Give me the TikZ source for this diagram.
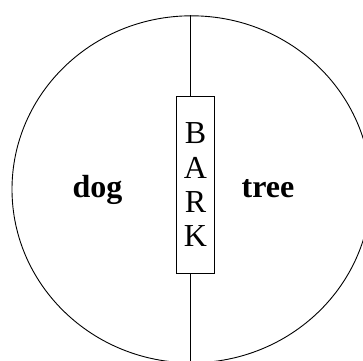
\documentclass[tikz,border=0pt]{standalone}
\usepackage{fontspec}
\setmainfont{Liberation Serif}
\usetikzlibrary{shapes.geometric}
\begin{document}
\begin{tikzpicture}[x=1pt, y=-1pt, line width=0.9pt]
\path[use as bounding box, clip] (0,0) rectangle (363,360);
\node[draw, ellipse, minimum width=359pt, minimum height=347pt, inner sep=0pt] (field) at (191.5,189.3) {};
\node[draw, fill=white, minimum width=37.6pt, minimum height=177pt, inner sep=0pt, align=center, font=\fontsize{32}{34.3}\selectfont] (bark) at (195.5,184.8) {B\\A\\R\\K};
\node[font=\fontsize{32}{34}\selectfont\bfseries, anchor=base] (dog) at (97.5,197.7) {dog};
\node[font=\fontsize{32}{34}\selectfont\bfseries, anchor=base] (tree) at (268,197.7) {tree};
\coordinate (root) at (190.7,365);
\draw (field.north -| root) -- (root |- bark.north);
\draw (root |- bark.south) -- (root);
\end{tikzpicture}
\end{document}
